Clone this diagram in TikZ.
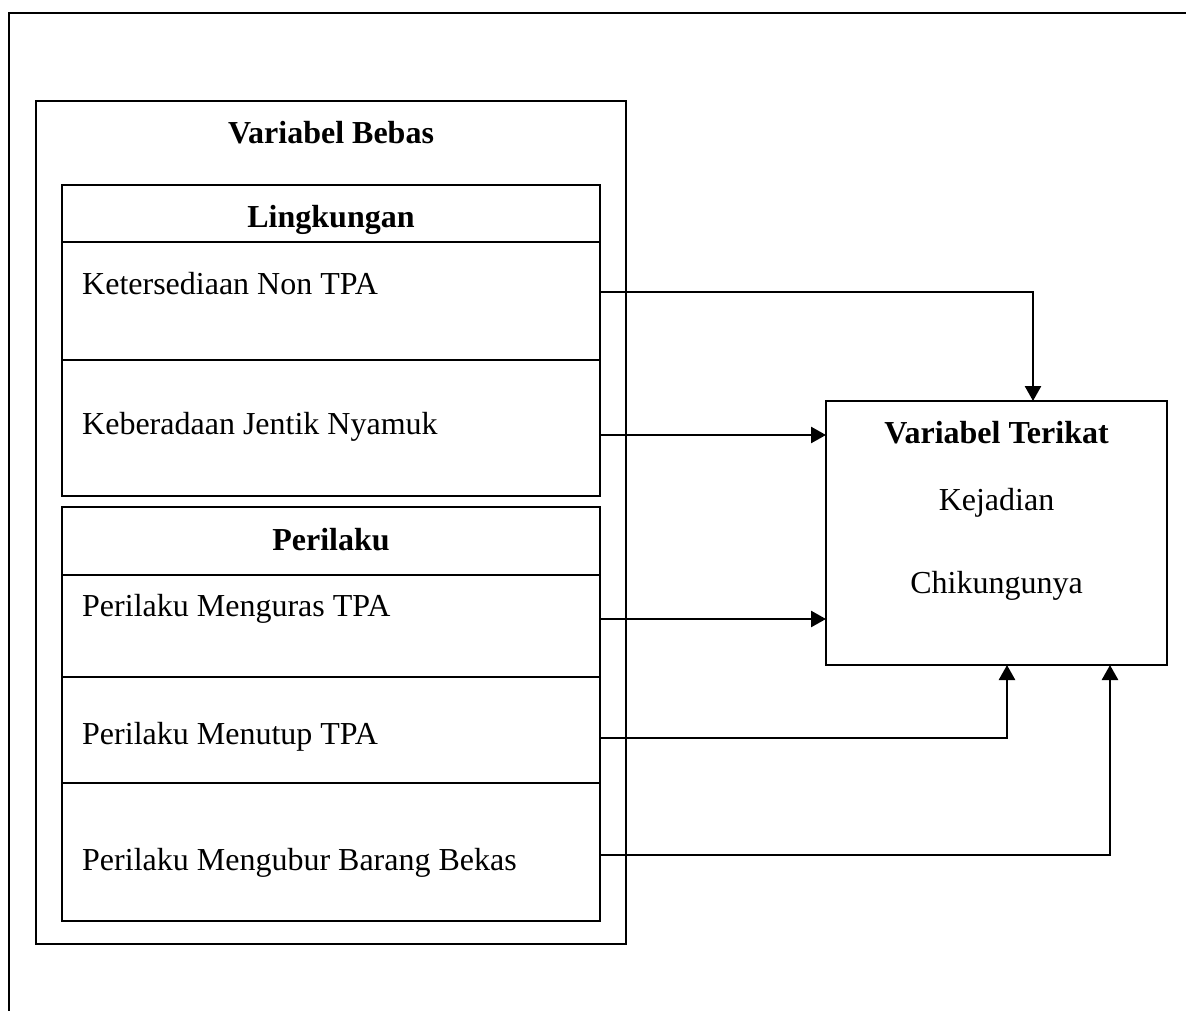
\documentclass[tikz,border=0pt]{standalone}
\usepackage{fontspec}
\setmainfont{Liberation Serif}
\usetikzlibrary{arrows.meta}
\begin{document}
\begin{tikzpicture}[x=1pt,y=-1pt,
  box/.style={draw, line width=2.2pt, inner sep=0pt, outer sep=0pt, anchor=north west},
  lbl/.style={inner sep=0pt, anchor=base west, font=\fontsize{32}{38}\selectfont},
  ctr/.style={inner sep=0pt, anchor=base, font=\fontsize{32}{38}\selectfont},
  ttl/.style={inner sep=0pt, anchor=base, font=\fontsize{32}{38}\selectfont\bfseries},
  conn/.style={line width=2.6pt, -{Triangle[length=15pt,width=16pt]}},
  frame/.style={line width=2.4pt}
]
\useasboundingbox (0,0) rectangle (1186,1011);
% outer frame
\coordinate (ftr) at (1186,13);
\coordinate (ftl) at (9,13);
\coordinate (fbl) at (9,1011);
\draw[frame] (ftr) -- (ftl) -- (fbl);

% Variabel Bebas box
\node[box, minimum width=590pt, minimum height=843pt] (vb) at (36,101) {};
\node[ttl] (vbt) at (331,144) {Variabel Bebas};

% Lingkungan
\node[box, minimum width=538pt, minimum height=57pt] (lh) at (62,185) {};
\node[box, minimum width=538pt, minimum height=118pt] (r1) at (62,242) {};
\node[box, minimum width=538pt, minimum height=136pt] (r2) at (62,360) {};
\node[ttl] (lht) at (331,228) {Lingkungan};
\node[lbl] (t1) at (82,294) {Ketersediaan Non TPA};
\node[lbl] (t2) at (82,434) {Keberadaan Jentik Nyamuk};

% Perilaku
\node[box, minimum width=538pt, minimum height=68pt] (ph) at (62,507) {};
\node[box, minimum width=538pt, minimum height=102pt] (r3) at (62,575) {};
\node[box, minimum width=538pt, minimum height=106pt] (r4) at (62,677) {};
\node[box, minimum width=538pt, minimum height=138pt] (r5) at (62,783) {};
\node[ttl] (pht) at (331,550) {Perilaku};
\node[lbl] (t3) at (82,616) {Perilaku Menguras TPA};
\node[lbl] (t4) at (82,744) {Perilaku Menutup TPA};
\node[lbl] (t5) at (82,870) {Perilaku Mengubur Barang Bekas};

% Variabel Terikat
\node[box, minimum width=341pt, minimum height=264pt] (tb) at (826,401) {};
\node[ttl] (tbt) at (996.5,443) {Variabel Terikat};
\node[ctr] (tb1) at (996.5,510) {Kejadian};
\node[ctr] (tb2) at (996.5,593) {Chikungunya};

% arrow starts
\coordinate (s1) at ([yshift=9pt]r1.east);
\coordinate (s2) at ([yshift=-7pt]r2.east);
\coordinate (s3) at ([yshift=7pt]r3.east);
\coordinate (s4) at ([yshift=-8pt]r4.east);
\coordinate (s5) at ([yshift=-3pt]r5.east);

\draw[conn] (s1) -| ([xshift=36.5pt]tb.north);
\draw[conn] (s2) -- (s2 -| tb.west);
\draw[conn] (s3) -- (s3 -| tb.west);
\draw[conn] (s4) -| ([xshift=10.5pt]tb.south);
\draw[conn] (s5) -| ([xshift=113.5pt]tb.south);
\end{tikzpicture}
\end{document}
